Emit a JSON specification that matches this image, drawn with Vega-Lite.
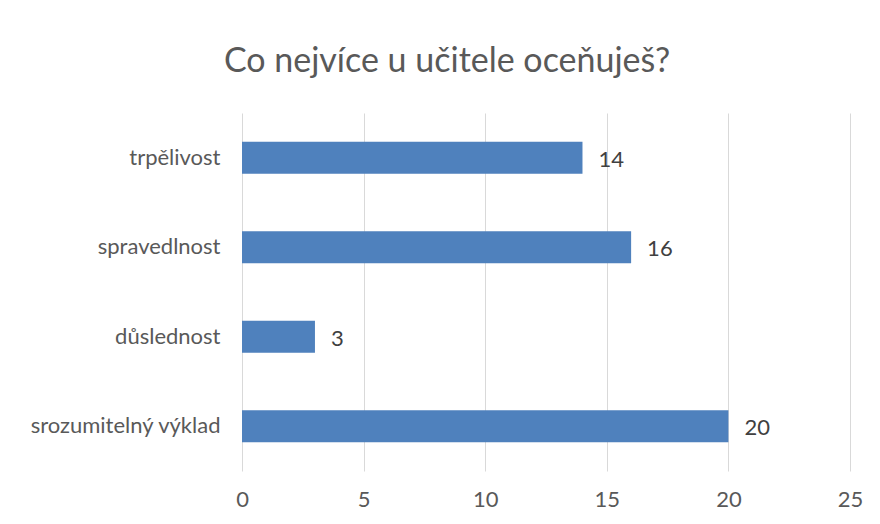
{
  "$schema": "https://vega.github.io/schema/vega-lite/v6.json",
  "width": 608,
  "height": 358,
  "autosize": "none",
  "padding": {"left": 242, "top": 113, "right": 30, "bottom": 53},
  "background": "white",
  "title": {
    "text": "Co nejvíce u učitele oceňuješ?",
    "font": "Lato",
    "fontSize": 34,
    "fontWeight": "normal",
    "color": "#595959",
    "anchor": "middle",
    "baseline": "alphabetic",
    "dx": -99,
    "offset": 7
  },
  "config": {
    "view": {"stroke": null},
    "axis": {"labelFont": "Lato", "labelFontSize": 22, "labelColor": "#595959", "labelLimit": 400, "ticks": false, "domain": false, "title": null}
  },
  "data": {
    "values": [
      {"kategorie": "trpělivost", "pocet": 14},
      {"kategorie": "spravedlnost", "pocet": 16},
      {"kategorie": "důslednost", "pocet": 3},
      {"kategorie": "srozumitelný výklad", "pocet": 20}
    ]
  },
  "encoding": {
    "y": {
      "field": "kategorie",
      "type": "nominal",
      "sort": ["trpělivost", "spravedlnost", "důslednost", "srozumitelný výklad"],
      "scale": {"paddingInner": 0.64, "paddingOuter": 0.32},
      "axis": {"grid": false, "labelPadding": 22}
    },
    "x": {
      "field": "pocet",
      "type": "quantitative",
      "scale": {"domain": [0, 25], "nice": false},
      "axis": {"values": [0, 5, 10, 15, 20, 25], "grid": true, "gridColor": "#D9D9D9", "gridWidth": 1, "labelPadding": 18, "labelFlush": false}
    }
  },
  "layer": [
    {"mark": {"type": "bar", "color": "#4F81BD"}},
    {
      "mark": {"type": "text", "align": "left", "baseline": "middle", "dx": 16, "dy": 2, "font": "Lato", "fontSize": 22, "color": "#404040"},
      "encoding": {"text": {"field": "pocet", "type": "quantitative"}}
    }
  ]
}
